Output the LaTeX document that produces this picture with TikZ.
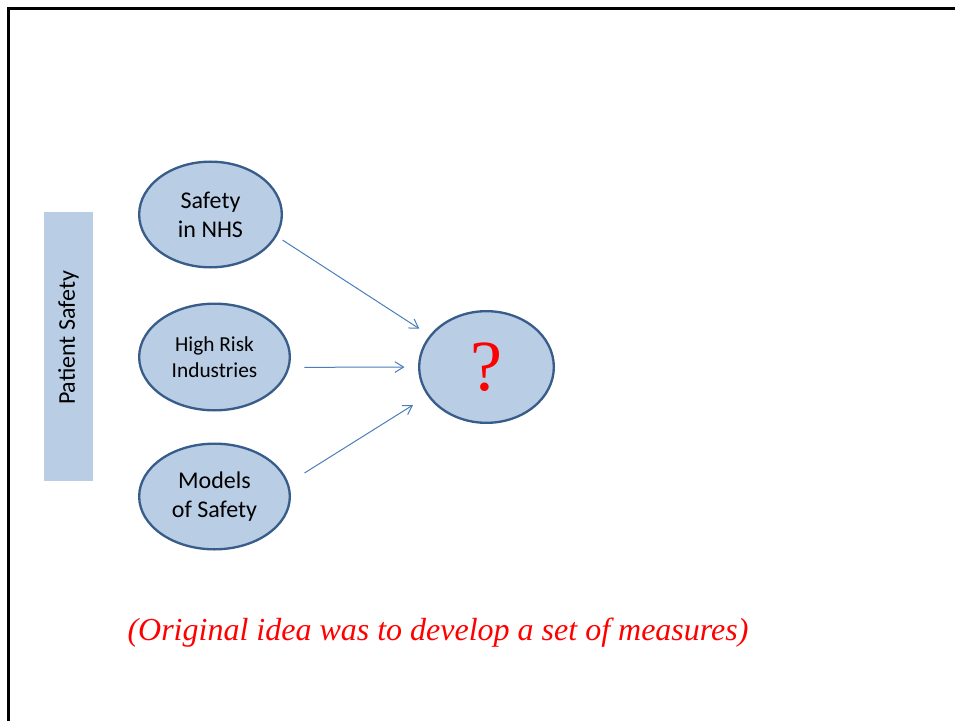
\documentclass[tikz,border=0pt]{standalone}
\usepackage{fontspec}
\setmainfont{Carlito}
\newfontfamily\timesfont{Liberation Serif}
\usepackage{tikz}
\usetikzlibrary{positioning,arrows.meta,shapes.geometric}
\definecolor{fillblue}{HTML}{B9CDE5}
\definecolor{rimblue}{HTML}{385D8A}
\definecolor{lineblue}{HTML}{4A7EBB}

\begin{document}
\begin{tikzpicture}[
  x=0.75pt, y=-0.75pt,
  bubble/.style={ellipse, draw=rimblue, line width=1.75pt, fill=fillblue,
                 align=center, outer sep=0pt, inner sep=1pt,
                 minimum width=#1},
  sidebar/.style={fill=fillblue, rotate=90, minimum width=201.75pt,
                  minimum height=36.75pt, inner sep=0pt,
                  font=\fontsize{18}{21.6}\selectfont},
  arr/.style={-{Straight Barb[length=6.5pt,width=8pt]}, draw=lineblue,
              line width=0.75pt}]

\useasboundingbox (0,0) rectangle (955,720);
\draw[line width=2.25pt, line cap=rect] (955,8.5) -- (8.5,8.5) -- (8.5,720);

\node[sidebar] (side) at (68.5,346.5) {\hspace*{13pt}Patient Safety};

\node[bubble=107pt, minimum height=79.25pt,
      font=\fontsize{18}{21.6}\selectfont] (nhs) at (210.5,214.5) {Safety\\in NHS};
\node[bubble=113pt, minimum height=80pt, below=27.25pt of nhs, xshift=3pt,
      font=\fontsize{16}{19.2}\selectfont] (risk) {High Risk\\Industries};
\node[bubble=113pt, minimum height=79.25pt, below=25pt of risk,
      font=\fontsize{18}{21.6}\selectfont] (models) {Models\\of Safety};
\node[bubble=101pt, minimum height=83.75pt, text=red,
      font=\timesfont\fontsize{54}{62}\selectfont] (q) at (486.5,367) {?};

%% arrows stop short of both ellipses
\draw[arr, shorten <=6pt,  shorten >=10pt]  (nhs.-18)    -- (q.151);
\draw[arr, shorten <=12pt, shorten >=11pt]  (risk.-8.4)  -- (q.180);
\draw[arr, shorten <=15pt, shorten >=13.7pt] (models.10.2) -- (q.-154.6);

\node[anchor=base, text=red, font=\timesfont\itshape\fontsize{24}{28}\selectfont]
  (note) at (438,640) {(Original idea was to develop a set of measures)};
\end{tikzpicture}
\end{document}
